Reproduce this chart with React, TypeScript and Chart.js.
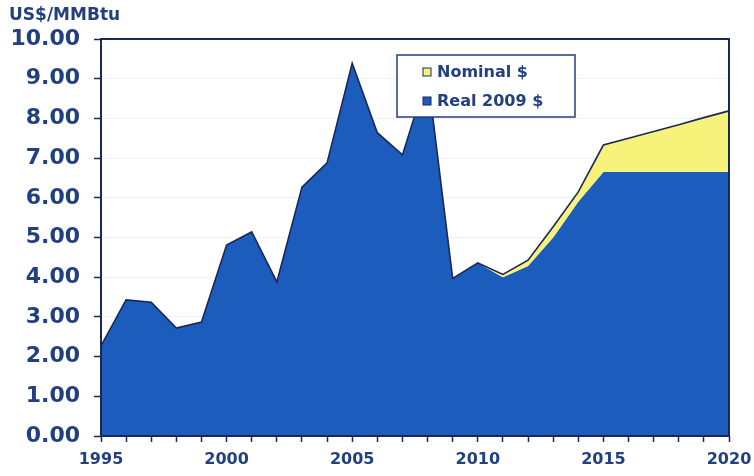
import React, { useEffect, useRef } from "react";
import { Chart, registerables } from "chart.js";

Chart.register(...registerables);

const years = [
  "1995", "1996", "1997", "1998", "1999", "2000", "2001", "2002", "2003",
  "2004", "2005", "2006", "2007", "2008", "2009", "2010", "2011", "2012",
  "2013", "2014", "2015", "2016", "2017", "2018", "2019", "2020",
];

const realValues = [
  2.27, 3.43, 3.37, 2.72, 2.87, 4.81, 5.14, 3.88, 6.27, 6.88, 9.39, 7.64, 7.08,
  9.1, 3.97, 4.36, 4.0, 4.28, 5.0, 5.9, 6.65, 6.65, 6.65, 6.65, 6.65, 6.65,
];

const nominalValues = [
  2.27, 3.43, 3.37, 2.72, 2.87, 4.81, 5.14, 3.88, 6.27, 6.88, 9.39, 7.64, 7.08,
  9.1, 3.97, 4.36, 4.07, 4.43, 5.27, 6.15, 7.33, 7.5, 7.67, 7.84, 8.02, 8.19,
];

const yTickValues = [0, 1, 2, 3, 4, 5, 6, 7, 8, 9, 10];
const yAxisTitle = "US$/MMBtu";
const seriesLabels = ["Real 2009 $", "Nominal $"];

const NAVY = "#22407f";
const LINE = "#1a2857";
const BLUE = "#1c5cbd";
const YELLOW = "#f6f27a";
const FONT = "'DejaVu Sans', Verdana, sans-serif";

const decorPlugin = {
  id: "decor",
  afterDatasetsDraw(chart: any) {
    const { ctx, chartArea: a } = chart;
    ctx.save();
    ctx.strokeStyle = LINE;
    ctx.lineWidth = 2;
    ctx.strokeRect(a.left, a.top, a.right - a.left, a.bottom - a.top);

    const lx = a.left + 296;
    const ly = a.top + 16;
    const lw = 178;
    const lh = 62;
    ctx.fillStyle = "#ffffff";
    ctx.fillRect(lx, ly, lw, lh);
    ctx.strokeStyle = NAVY;
    ctx.lineWidth = 1.5;
    ctx.strokeRect(lx, ly, lw, lh);

    const items = [
      { label: chart.data.datasets[1].label, color: YELLOW, cy: ly + 17 },
      { label: chart.data.datasets[0].label, color: BLUE, cy: ly + 46 },
    ];
    ctx.font = `bold 16px ${FONT}`;
    ctx.textBaseline = "middle";
    ctx.textAlign = "left";
    for (const it of items) {
      ctx.fillStyle = it.color;
      ctx.fillRect(lx + 26, it.cy - 4, 8, 8);
      ctx.strokeStyle = LINE;
      ctx.lineWidth = 1;
      ctx.strokeRect(lx + 26, it.cy - 4, 8, 8);
      ctx.fillStyle = NAVY;
      ctx.fillText(it.label, lx + 40, it.cy + 1);
    }
    ctx.restore();
  },
  afterDraw(chart: any) {
    const { ctx } = chart;
    ctx.save();
    ctx.font = `bold 17px ${FONT}`;
    ctx.fillStyle = NAVY;
    ctx.textBaseline = "alphabetic";
    ctx.textAlign = "left";
    ctx.fillText(yAxisTitle, 9, 20);
    ctx.restore();
  },
};

export default function App() {
  const canvasRef = useRef<HTMLCanvasElement | null>(null);

  useEffect(() => {
    if (!canvasRef.current) return;
    const chart = new Chart(canvasRef.current, {
      type: "line",
      data: {
        labels: years,
        datasets: [
          {
            label: seriesLabels[0],
            data: realValues,
            backgroundColor: BLUE,
            borderColor: "rgba(0,0,0,0)",
            borderWidth: 0,
            pointRadius: 0,
            fill: "origin",
            tension: 0,
            order: 2,
          },
          {
            label: seriesLabels[1],
            data: nominalValues,
            backgroundColor: YELLOW,
            borderColor: LINE,
            borderWidth: 1.6,
            pointRadius: 0,
            fill: "-1",
            tension: 0,
            order: 1,
          },
        ],
      },
      options: {
        animation: false,
        responsive: true,
        maintainAspectRatio: false,
        layout: { padding: { left: 0, top: 39, right: 25, bottom: 0 } },
        plugins: {
          legend: { display: false },
          tooltip: { enabled: false },
          title: { display: false },
        },
        scales: {
          x: {
            type: "category",
            offset: false,
            afterFit(scale: any) {
              scale.height = 40;
              scale.paddingLeft = 0;
              scale.paddingRight = 0;
            },
            grid: {
              display: true,
              drawOnChartArea: false,
              drawTicks: true,
              tickLength: 6,
              tickColor: LINE,
              tickWidth: 1.5,
              offset: false,
            },
            border: { display: false },
            ticks: {
              autoSkip: false,
              maxRotation: 0,
              padding: 8,
              color: NAVY,
              font: { family: FONT, size: 16, weight: "bold" },
              callback(_v: any, i: number) {
                const y = Number(years[i]);
                return y % 5 === 0 ? years[i] : "";
              },
            },
          },
          y: {
            min: 0,
            max: 10,
            afterFit(scale: any) {
              scale.width = 101;
              scale.paddingTop = 0;
              scale.paddingBottom = 0;
            },
            afterBuildTicks(scale: any) {
              scale.ticks = yTickValues.map((v) => ({ value: v }));
            },
            grid: {
              display: true,
              drawOnChartArea: true,
              color: "rgba(170,170,170,0.18)",
              lineWidth: 1,
              drawTicks: true,
              tickLength: 7,
              tickColor: LINE,
              tickWidth: 1.5,
            },
            border: { display: false },
            ticks: {
              padding: 14,
              color: NAVY,
              font: { family: FONT, size: 22, weight: "bold" },
              callback(v: any) {
                return Number(v).toFixed(2);
              },
            },
          },
        },
      },
      plugins: [decorPlugin],
    } as any);
    return () => chart.destroy();
  }, []);

  return (
    <div
      style={{
        position: "absolute",
        left: 0,
        top: 0,
        width: 754,
        height: 476,
        background: "#ffffff",
      }}
    >
      <canvas ref={canvasRef} />
    </div>
  );
}
